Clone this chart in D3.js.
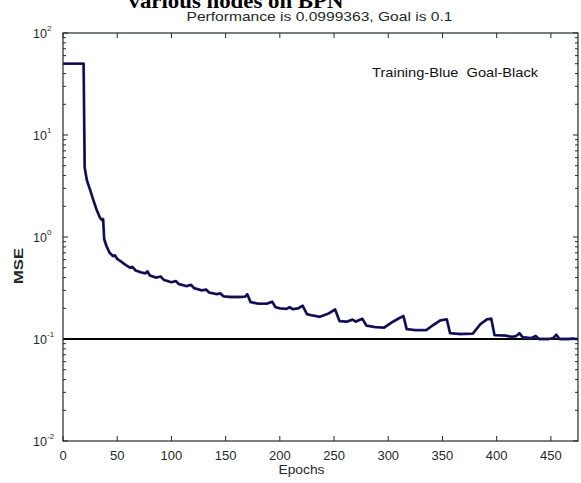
<!DOCTYPE html>
<html>
<head>
<meta charset="utf-8">
<script src="https://cdn.jsdelivr.net/npm/d3@7"></script>
<style>
  body { margin: 0; background: #fff; }
  svg { display: block; }
  text { font-family: "Liberation Sans", Arial, sans-serif; fill: #1e2a28; }
</style>
</head>
<body>
<svg id="chart" width="581" height="483"></svg>
<script>
// Training record (epoch, mse)
const epochs = [0, 19, 20, 22, 25, 28, 31, 34, 36, 37, 38, 40, 43, 46, 48, 50, 54, 58, 62, 64,
  67, 72, 76, 78, 80, 86, 90, 93, 100, 104, 107, 114, 118, 121, 128, 132, 135, 142, 145, 148,
  155, 162, 168, 170, 173, 180, 188, 193, 196, 200, 206, 209, 212, 217, 221, 225, 230, 237, 245, 251,
  255, 262, 267, 270, 276, 280, 288, 296, 303, 310, 314, 317, 325, 335, 342, 348, 354, 357, 365, 378,
  385, 391, 395, 398, 408, 414, 418, 421, 424, 432, 436, 439, 448, 452, 455, 458, 466, 470, 475]
const mse = [50, 50, 4.8, 3.6, 2.9, 2.3, 1.85, 1.55, 1.47, 1.5, 0.95, 0.82, 0.70, 0.65, 0.66, 0.61, 0.57, 0.53, 0.50, 0.51,
  0.47, 0.45, 0.44, 0.46, 0.42, 0.40, 0.41, 0.38, 0.36, 0.37, 0.345, 0.33, 0.34, 0.315, 0.30, 0.305, 0.285, 0.275, 0.28, 0.262,
  0.258, 0.258, 0.26, 0.275, 0.23, 0.222, 0.222, 0.232, 0.205, 0.20, 0.197, 0.205, 0.196, 0.20, 0.212, 0.175, 0.170, 0.165, 0.178, 0.195,
  0.150, 0.148, 0.155, 0.148, 0.158, 0.135, 0.131, 0.129, 0.145, 0.160, 0.168, 0.125, 0.122, 0.122, 0.138, 0.152, 0.156, 0.114, 0.112, 0.113,
  0.14, 0.156, 0.158, 0.109, 0.108, 0.105, 0.107, 0.114, 0.104, 0.102, 0.107, 0.1, 0.1, 0.102, 0.11, 0.1, 0.1, 0.101, 0.0999]

const goal = 0.1
const xTicks = [0, 50, 100, 150, 200, 250, 300, 350, 400, 450]
const yDecades = [-2, -1, 0, 1, 2]

const margin = { left: 63, right: 3, top: 33, bottom: 42 }
const width = 581, height = 483

let svg = d3.select("#chart")

let x = d3.scaleLinear()
  .domain([0, 475])
  .range([margin.left, width - margin.right])
let y = d3.scaleLog()
  .domain([0.01, 100])
  .range([height - margin.bottom, margin.top])

// Titles (the top one is cut off by the picture edge)
svg.append("text")
  .attr("x", 236)
  .attr("y", 8)
  .attr("text-anchor", "middle")
  .attr("textLength", 215)
  .attr("lengthAdjust", "spacingAndGlyphs")
  .style("font-family", "'Liberation Serif', 'Times New Roman', serif")
  .style("font-weight", "bold")
  .style("font-size", "21px")
  .style("fill", "#000")
  .text("various nodes on BPN")

svg.append("text")
  .attr("x", (x.range()[0] + x.range()[1]) / 2 - 1)
  .attr("y", 21)
  .attr("text-anchor", "middle")
  .attr("textLength", 266)
  .attr("lengthAdjust", "spacingAndGlyphs")
  .style("font-size", "13px")
  .text("Performance is 0.0999363, Goal is 0.1")

// Axis ticks, drawn inward on all four sides
let ticks = svg.append("g")
  .attr("stroke", "#1e2a28")
  .attr("stroke-width", 1)

xTicks.forEach(t => {
  ticks.append("line")
    .attr("x1", x(t)).attr("x2", x(t))
    .attr("y1", y.range()[0]).attr("y2", y.range()[0] - 5)
  ticks.append("line")
    .attr("x1", x(t)).attr("x2", x(t))
    .attr("y1", y.range()[1]).attr("y2", y.range()[1] + 5)
})

let yMinor = []
yDecades.slice(0, -1).forEach(d => {
  for (let m = 2; m <= 9; m++) yMinor.push(m * Math.pow(10, d))
})
yMinor.forEach(v => {
  ticks.append("line")
    .attr("x1", x.range()[0]).attr("x2", x.range()[0] + 3)
    .attr("y1", y(v)).attr("y2", y(v))
  ticks.append("line")
    .attr("x1", x.range()[1]).attr("x2", x.range()[1] - 3)
    .attr("y1", y(v)).attr("y2", y(v))
})
yDecades.forEach(d => {
  let v = Math.pow(10, d)
  ticks.append("line")
    .attr("x1", x.range()[0]).attr("x2", x.range()[0] + 5)
    .attr("y1", y(v)).attr("y2", y(v))
  ticks.append("line")
    .attr("x1", x.range()[1]).attr("x2", x.range()[1] - 5)
    .attr("y1", y(v)).attr("y2", y(v))
})

// Tick labels
svg.append("g")
  .selectAll("text")
  .data(xTicks)
  .join("text")
  .attr("x", d => x(d))
  .attr("y", height - margin.bottom + 19)
  .attr("text-anchor", "middle")
  .style("font-size", "13px")
  .text(d => d)

svg.append("g")
  .selectAll("text")
  .data(yDecades)
  .join("text")
  .attr("x", x.range()[0] - 16)
  .attr("y", d => y(Math.pow(10, d)) + 4.5)
  .attr("text-anchor", "end")
  .style("font-size", "12.5px")
  .text("10")
svg.append("g")
  .selectAll("text")
  .data(yDecades)
  .join("text")
  .attr("x", x.range()[0] - 16)
  .attr("y", d => y(Math.pow(10, d)) - 2)
  .style("font-size", "8px")
  .text(d => d)

// Axis titles
svg.append("text")
  .attr("x", (x.range()[0] + x.range()[1]) / 2 - 19)
  .attr("y", 474)
  .attr("text-anchor", "middle")
  .attr("textLength", 46)
  .attr("lengthAdjust", "spacingAndGlyphs")
  .style("font-size", "13px")
  .text("Epochs")

svg.append("text")
  .attr("transform", "translate(23, 266) rotate(-90)")
  .attr("text-anchor", "middle")
  .attr("textLength", 36)
  .attr("lengthAdjust", "spacingAndGlyphs")
  .style("font-size", "13px")
  .style("font-weight", "bold")
  .text("MSE")

// Legend note
svg.append("text")
  .attr("x", 372)
  .attr("y", 77)
  .attr("textLength", 166)
  .attr("lengthAdjust", "spacingAndGlyphs")
  .attr("xml:space", "preserve")
  .style("white-space", "pre")
  .style("font-size", "13px")
  .style("fill", "#111")
  .text("Training-Blue  Goal-Black")

// Goal line
svg.append("line")
  .attr("x1", x.range()[0]).attr("x2", x.range()[1])
  .attr("y1", y(goal)).attr("y2", y(goal))
  .attr("stroke", "#000")
  .attr("stroke-width", 2)

// Training curve
let line = d3.line()
  .x((d, i) => x(epochs[i]))
  .y(d => y(d))

svg.append("path")
  .datum(mse)
  .attr("d", line)
  .attr("fill", "none")
  .attr("stroke", "#2a2aa0")
  .attr("stroke-width", 2.8)
  .attr("stroke-linejoin", "round")
svg.append("path")
  .datum(mse)
  .attr("d", line)
  .attr("fill", "none")
  .attr("stroke", "#0c0c28")
  .attr("stroke-width", 1.5)
  .attr("stroke-linejoin", "round")

// Frame
svg.append("rect")
  .attr("x", x.range()[0])
  .attr("y", y.range()[1])
  .attr("width", x.range()[1] - x.range()[0])
  .attr("height", y.range()[0] - y.range()[1])
  .attr("fill", "none")
  .attr("stroke", "#1e2a28")
  .attr("stroke-width", 1.2)
</script>
</body>
</html>
